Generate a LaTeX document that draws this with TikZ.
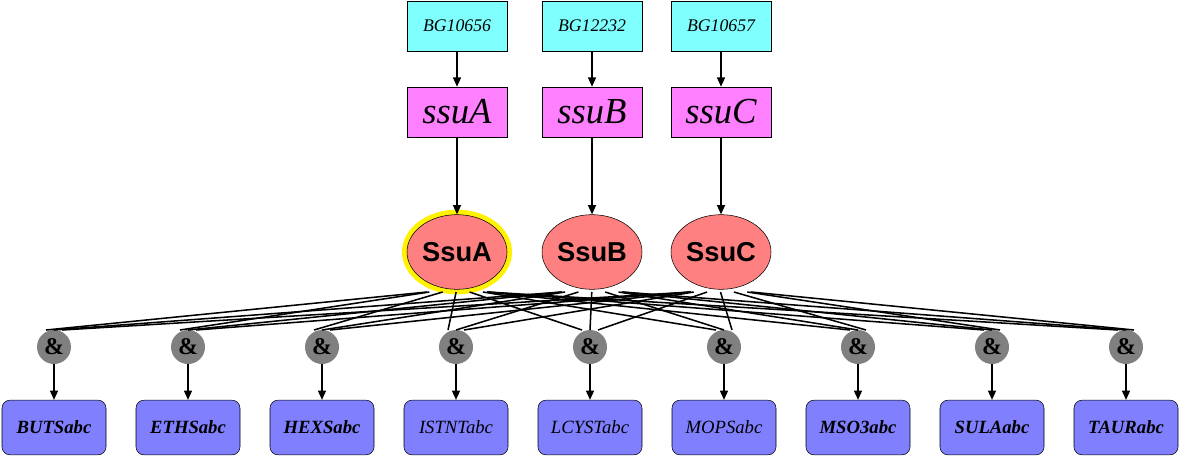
\documentclass[tikz,border=0pt]{standalone}
\usepackage{fontspec}
\setmainfont{Liberation Serif}
\setsansfont{Liberation Sans}
\usetikzlibrary{arrows.meta}
\usetikzlibrary{shapes.geometric}
\definecolor{genecyan}{RGB}{128,255,255}
\definecolor{tumag}{RGB}{255,128,255}
\definecolor{protred}{RGB}{255,128,128}
\definecolor{cplxgray}{RGB}{128,128,128}
\definecolor{reacblue}{RGB}{128,128,255}
\tikzset{gene/.style = {draw, fill=genecyan, minimum width=75pt, minimum height=37.5pt,
                        inner sep=0, font=\itshape\fontsize{13.3}{13.3}\selectfont}}
\tikzset{tu/.style = {draw, fill=tumag, minimum width=75pt, minimum height=37.5pt,
                      inner sep=0, font=\itshape\fontsize{27.5}{27.5}\selectfont}}
\tikzset{prot/.style = {draw, ellipse, fill=protred, minimum width=75pt, minimum height=56pt,
                        inner sep=0, font=\sffamily\bfseries\fontsize{20.5}{20.5}\selectfont}}
\tikzset{hilite/.style = {preaction={draw=yellow, line width=7.5pt}}}
\tikzset{cplx/.style = {circle, fill=cplxgray, minimum size=25.5pt, inner sep=0,
                        font=\bfseries\fontsize{18}{18}\selectfont}}
\tikzset{reac/.style = {draw, rounded corners=6pt, fill=reacblue, minimum width=78pt,
                        minimum height=41pt, inner sep=0, font=\itshape\fontsize{14}{14}\selectfont}}
\tikzset{arr/.style = {-{Triangle[length=7pt, width=6pt]}, line width=1.1pt}}
\tikzset{link/.style = {line width=1.15pt}}

\begin{document}
\begin{tikzpicture}[x=0.75pt, y=-0.75pt, thin]
      \useasboundingbox (0,0) rectangle (1181,457);
      % genes
      \node [gene] (gA) at (457, 26) {BG10656};
      \node [gene] (gB) at (592, 26) {BG12232};
      \node [gene] (gC) at (721, 26) {BG10657};
      % transcription units
      \node [tu] (uA) at (457, 112) {ssuA};
      \node [tu] (uB) at (592, 112) {ssuB};
      \node [tu] (uC) at (721, 112) {ssuC};
      % proteins
      \node [prot, hilite] (SsuA) at (457, 252) {SsuA};
      \node [prot] (SsuB) at (592, 252) {SsuB};
      \node [prot] (SsuC) at (721, 252) {SsuC};
      \draw [arr] (gA) -- (uA);
      \draw [arr] (gB) -- (uB);
      \draw [arr] (gC) -- (uC);
      \draw [arr] (uA) -- (SsuA);
      \draw [arr] (uB) -- (SsuB);
      \draw [arr] (uC) -- (SsuC);
      % complexes and reactions
      \foreach \i/\x/\n/\f in {1/54/BUTSabc/\bfseries, 2/188/ETHSabc/\bfseries,
                               3/322/HEXSabc/\bfseries, 4/456/ISTNTabc/,
                               5/590/LCYSTabc/, 6/724/MOPSabc/,
                               7/858/MSO3abc/\bfseries, 8/992/SULAabc/\bfseries,
                               9/1126/TAURabc/\bfseries} {
        \node [cplx] (and\i) at (\x, 347) {\&};
        \node [reac] (r\i) at (\x, 427.5) {\f\n};
        \draw [arr] (and\i) -- (r\i);
        % links leave the ellipses just under their bottom
        \pgfmathsetmacro{\dA}{max(-30, min(30, (\x-465)*0.1))}
        \pgfmathsetmacro{\dB}{max(-30, min(30, (\x-592)*0.1))}
        \pgfmathsetmacro{\dC}{max(-30, min(30, (\x-729)*0.1))}
        \coordinate (sa\i) at (457+\dA, 292);
        \coordinate (sb\i) at (592+\dB, 292);
        \coordinate (sc\i) at (721+\dC, 292);
        \coordinate (ta\i) at (\x-8, 330);
        \coordinate (tb\i) at (\x, 330);
        \coordinate (tc\i) at (\x+8, 330);
        \draw [link] (sa\i) -- (ta\i);
        \draw [link] (sb\i) -- (tb\i);
        \draw [link] (sc\i) -- (tc\i);
      }
    \end{tikzpicture}
\end{document}
